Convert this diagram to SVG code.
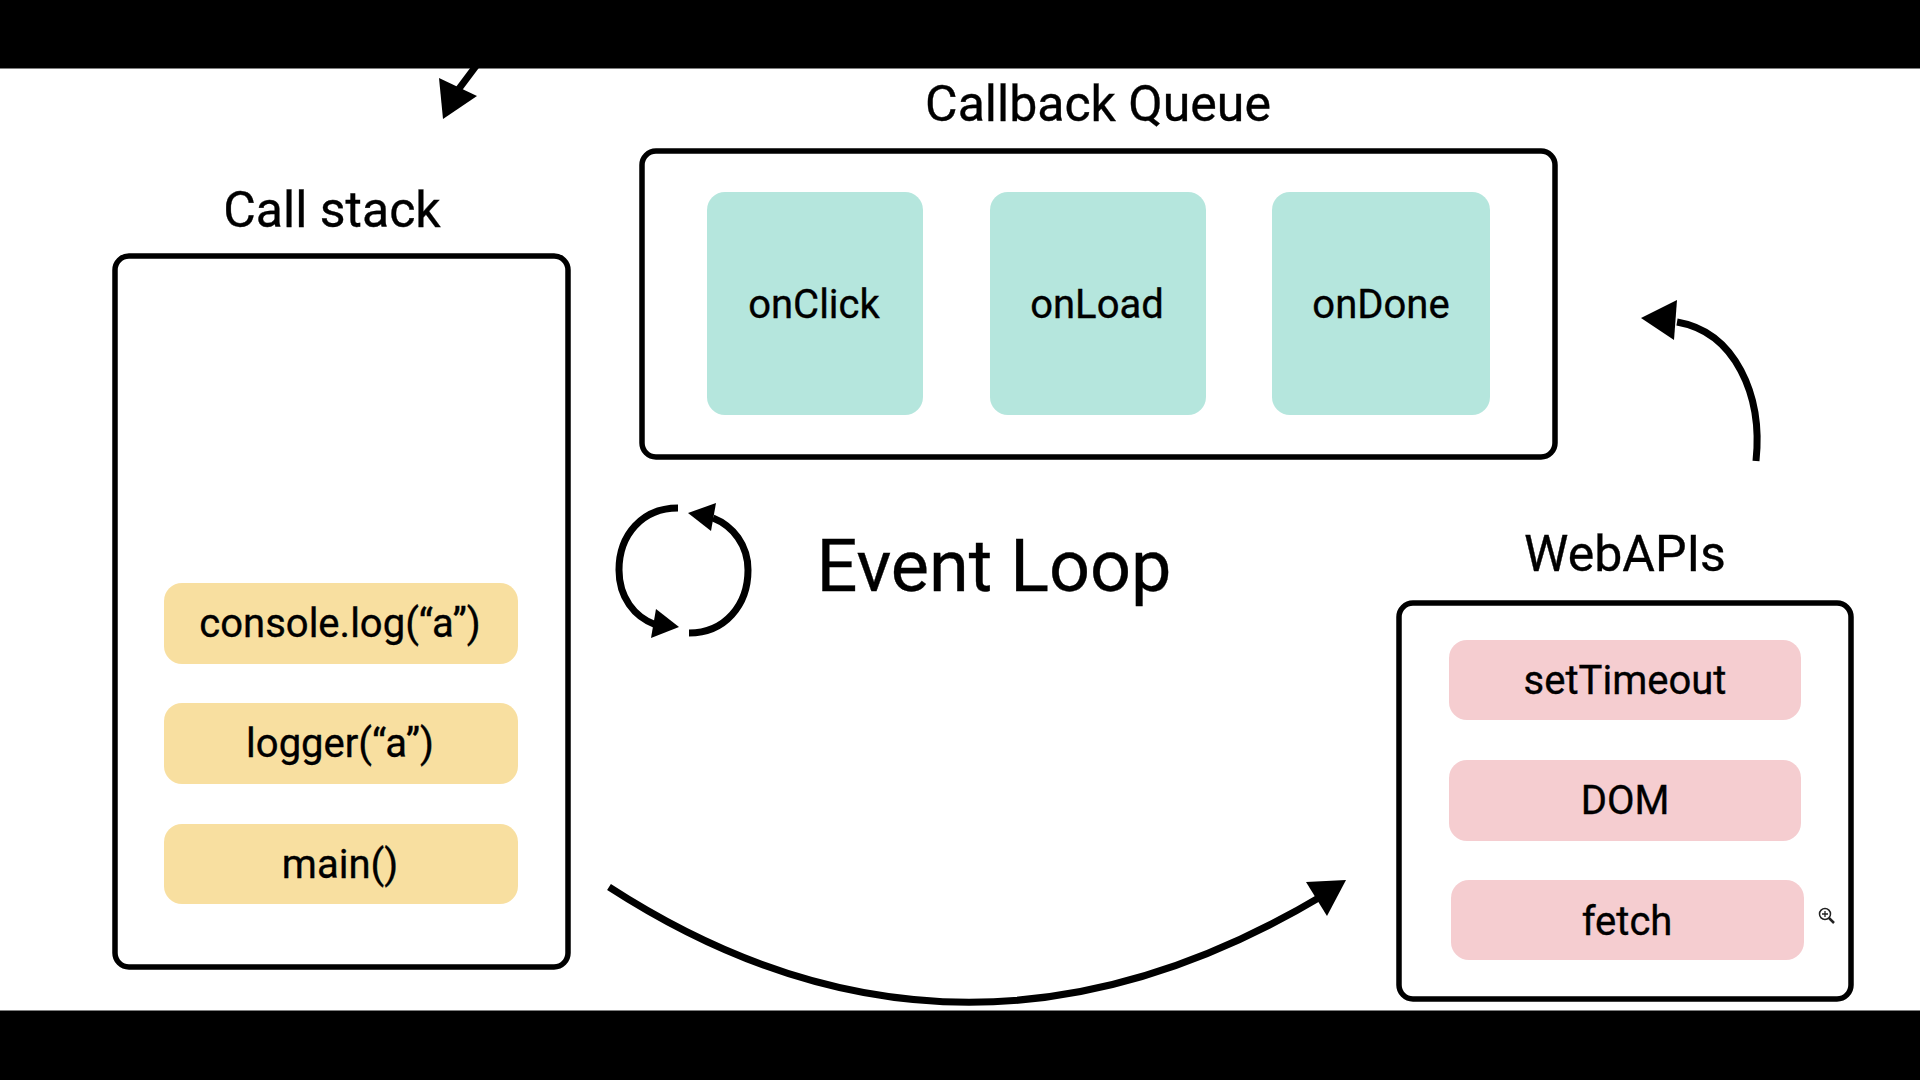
<svg xmlns="http://www.w3.org/2000/svg" width="1920" height="1080" viewBox="0 0 1920 1080">
<style>
text{font-family:Roboto,"Liberation Sans",sans-serif;fill:#000;text-anchor:middle;stroke:#000;stroke-width:.35}
.t{font-size:50px}
.l{font-size:40px}
.box{fill:#fff;stroke:#000;stroke-width:5.5}
.y{fill:#f8dfa0}
.g{fill:#b5e6dd}
.p{fill:#f5cdd0}
.c{fill:none;stroke:#000;stroke-width:7;stroke-linecap:butt}
</style>
<rect width="1920" height="1080" fill="#fff"/>
<g id="connectors">
<path class="c" d="M476,66 L458,90"/><polygon points="439,78 477,96 443,119"/>
<path class="c" d="M678,508 C642,508 619,535 619,570 C619,597 634,617 656,625"/><polygon points="656,609 651,638 679,627"/>
<path class="c" d="M689,633 C725,633 748,605 748,570 C748,545 733,526 713,518"/><polygon points="688,513 716,503 711,531"/>
<path class="c" d="M1756,461 C1763,395 1735,332 1677,322" stroke-linecap="round"/><polygon points="1641,318 1677,300 1674,340"/>
<path class="c" d="M609,887 Q958,1113 1322,896"/><polygon points="1306,882 1346,880 1327,916"/>
</g>
<g id="call-stack">
<text class="t" x="332" y="227">Call stack</text>
<rect class="box" x="115" y="256" width="453" height="711" rx="14"/>
</g>
<g id="frame-console"><rect class="y" x="164" y="583" width="354" height="81" rx="18"/><text class="l" x="340" y="637">console.log(“a”)</text></g>
<g id="frame-logger"><rect class="y" x="164" y="703" width="354" height="81" rx="18"/><text class="l" x="340" y="757">logger(“a”)</text></g>
<g id="frame-main"><rect class="y" x="164" y="824" width="354" height="80" rx="18"/><text class="l" x="340" y="878">main()</text></g>
<g id="callback-queue">
<text class="t" x="1098" y="121">Callback Queue</text>
<rect class="box" x="642" y="151" width="913" height="306" rx="14"/>
</g>
<g id="task-onclick"><rect class="g" x="707" y="192" width="216" height="223" rx="18"/><text class="l" x="814" y="318">onClick</text></g>
<g id="task-onload"><rect class="g" x="990" y="192" width="216" height="223" rx="18"/><text class="l" x="1097" y="318">onLoad</text></g>
<g id="task-ondone"><rect class="g" x="1272" y="192" width="218" height="223" rx="18"/><text class="l" x="1381" y="318">onDone</text></g>
<g id="event-loop"><text x="994" y="591" font-size="72">Event Loop</text></g>
<g id="webapis">
<text class="t" x="1625" y="571">WebAPIs</text>
<rect class="box" x="1399" y="603" width="452" height="396" rx="14"/>
</g>
<g id="api-settimeout"><rect class="p" x="1449" y="640" width="352" height="80" rx="18"/><text class="l" x="1625" y="694">setTimeout</text></g>
<g id="api-dom"><rect class="p" x="1449" y="760" width="352" height="81" rx="18"/><text class="l" x="1625" y="814">DOM</text></g>
<g id="api-fetch"><rect class="p" x="1451" y="880" width="353" height="80" rx="18"/><text class="l" x="1627" y="935">fetch</text></g>
<g id="magnifier" fill="none" stroke="#222">
<circle cx="1825" cy="914" r="5.5" stroke-width="1.5"/><path d="M1822,914h6M1825,911v6" stroke-width="1.3"/><path d="M1829,918l5,5" stroke-width="2.5"/>
</g>
<rect id="bar-top" width="1920" height="68.5" fill="#000"/>
<rect id="bar-bottom" y="1010.5" width="1920" height="70" fill="#000"/>
</svg>
